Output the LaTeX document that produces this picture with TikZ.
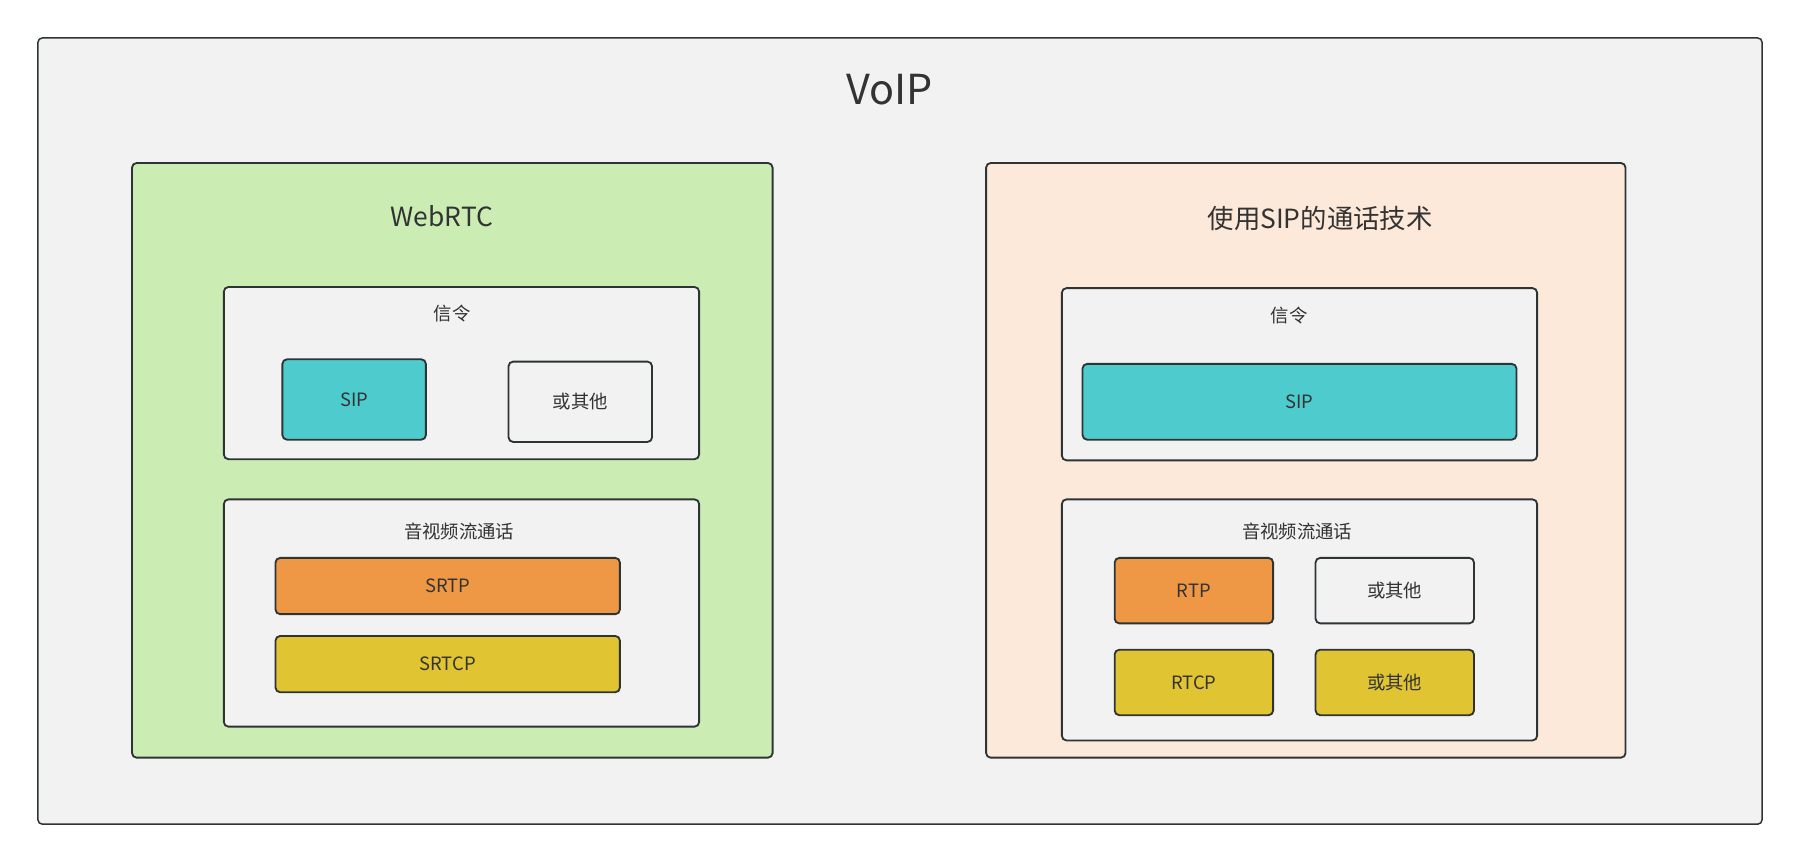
\documentclass[tikz,border=0pt]{standalone}
\usepackage{fontspec}
\setmainfont{Noto Sans CJK SC}
\definecolor{bordc}{HTML}{2E3436}
\definecolor{txtc}{HTML}{333333}
\definecolor{greyf}{HTML}{F2F2F2}
\definecolor{greenf}{HTML}{CBEDB4}
\definecolor{peachf}{HTML}{FCE9DA}
\definecolor{tealf}{HTML}{4ECBCD}
\definecolor{orangef}{HTML}{EE9744}
\definecolor{yellowf}{HTML}{E0C431}
\tikzset{
  box/.style={draw=bordc, line width=1.6pt, rounded corners=4pt, inner sep=0pt, text=txtc,
    font=\fontsize{16}{19}\selectfont},
  lbl/.style={text=txtc, inner sep=0pt, font=\fontsize{16}{19}\selectfont},
  biglbl/.style={text=txtc, inner sep=0pt, font=\fontsize{23}{27}\selectfont},
}
\begin{document}
\begin{tikzpicture}[x=1pt,y=-1pt]
\useasboundingbox[fill=white] (0,0) rectangle (1568,751);
% outer
\node[box, line width=1.3pt, fill=greyf, minimum width=1502pt, minimum height=685pt] (outer) at (784,375.5) {};
\node[text=txtc, inner sep=0pt, font=\fontsize{36}{42}\selectfont] (voip) at (775,78) {VoIP};
% left group
\node[box, fill=greenf, minimum width=558pt, minimum height=518pt] (webrtc) at (394,401) {};
\node[biglbl] (webrtclbl) at (385,188) {WebRTC};
\node[box, fill=greyf, minimum width=414pt, minimum height=150pt] (sigL) at (402,325) {};
\node[lbl] (sigLlbl) at (394,273) {信令};
\node[box, fill=tealf, minimum width=125pt, minimum height=70pt] (sipL) at (308.5,348) {SIP};
\node[box, fill=greyf, minimum width=125pt, minimum height=70pt] (othL) at (505.5,350) {或其他};
\node[box, fill=greyf, minimum width=414pt, minimum height=198pt] (avL) at (402,534) {};
\node[lbl] (avLlbl) at (400,463) {音视频流通话};
\node[box, fill=orangef, minimum width=300pt, minimum height=49pt] (srtp) at (390,510.5) {SRTP};
\node[box, fill=yellowf, minimum width=300pt, minimum height=49pt] (srtcp) at (390,578.5) {SRTCP};
% right group
\node[box, fill=peachf, minimum width=557pt, minimum height=518pt] (sipgrp) at (1137.5,401) {};
\node[biglbl] (sipgrplbl) at (1150,190) {使用SIP的通话技术};
\node[box, fill=greyf, minimum width=414pt, minimum height=150pt] (sigR) at (1132,326) {};
\node[lbl] (sigRlbl) at (1123,275) {信令};
\node[box, fill=tealf, minimum width=378pt, minimum height=66pt] (sipR) at (1132,350) {SIP};
\node[box, fill=greyf, minimum width=414pt, minimum height=210pt] (avR) at (1132,540) {};
\node[lbl] (avRlbl) at (1130,463) {音视频流通话};
\node[box, fill=orangef, minimum width=138pt, minimum height=57pt] (rtp) at (1040,514.5) {RTP};
\node[box, fill=greyf, minimum width=138pt, minimum height=57pt] (othR1) at (1215,514.5) {或其他};
\node[box, fill=yellowf, minimum width=138pt, minimum height=57pt] (rtcp) at (1040,594.5) {RTCP};
\node[box, fill=yellowf, minimum width=138pt, minimum height=57pt] (othR2) at (1215,594.5) {或其他};
\end{tikzpicture}
\end{document}
